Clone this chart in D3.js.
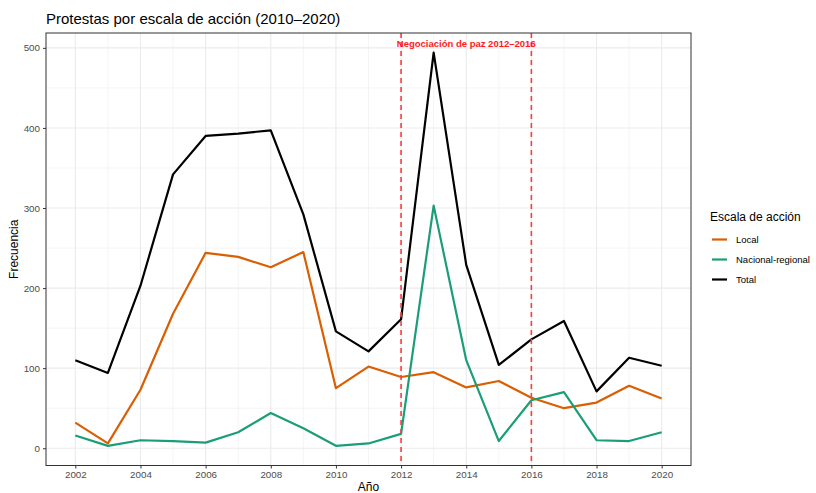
<!DOCTYPE html>
<html>
<head>
<meta charset="utf-8">
<script src="https://cdn.jsdelivr.net/npm/d3@7"></script>
<style>
  body { margin: 0; background: #fff; }
  text { font-family: "Liberation Sans", Arial, sans-serif; }
</style>
</head>
<body>
<svg id="chart" width="816" height="493"></svg>
<script>
const years = [2002, 2003, 2004, 2005, 2006, 2007, 2008, 2009, 2010, 2011,
  2012, 2013, 2014, 2015, 2016, 2017, 2018, 2019, 2020];
const local = [32, 6, 73, 168, 244, 239, 226, 245, 75, 102, 89, 95, 76, 84, 63, 50, 57, 78, 62];
const nacional = [16, 3, 10, 9, 7, 20, 44, 25, 3, 6, 18, 303, 110, 9, 60, 70, 10, 9, 20];
const total = [110, 94, 203, 342, 390, 393, 397, 292, 146, 121, 161, 494, 229, 104, 136, 159, 71, 113, 103];
const seriesNames = ['Local', 'Nacional-regional', 'Total'];
const seriesColors = ['#D95F02', '#1B9E77', '#000000'];
const xTicks = [2002, 2004, 2006, 2008, 2010, 2012, 2014, 2016, 2018, 2020];
const yTicks = [0, 100, 200, 300, 400, 500];
const peaceYears = [2012, 2016];

const series = [local, nacional, total].map((vals, i) => ({
  name: seriesNames[i],
  color: seriesColors[i],
  values: vals.map((v, j) => ({ year: years[j], value: v })),
}));

const svg = d3.select('#chart');
const panel = { left: 46, right: 691, top: 33, bottom: 465.5 };

// ggplot-like 5% expansion of the data range
const xPad = (d3.max(years) - d3.min(years)) * 0.05;
const allValues = local.concat(nacional, total);
const yMin = d3.min(allValues);
const yMax = d3.max(allValues);
const yPad = (yMax - yMin) * 0.05;

const x = d3.scaleLinear()
  .domain([d3.min(years) - xPad, d3.max(years) + xPad])
  .range([panel.left, panel.right]);
const y = d3.scaleLinear()
  .domain([yMin - yPad, yMax + yPad])
  .range([panel.bottom, panel.top]);

// minor grid
const g = svg.append('g');
g.selectAll('.minor-x')
  .data(d3.range(2003, 2021, 2))
  .enter().append('line')
  .attr('x1', d => x(d)).attr('x2', d => x(d))
  .attr('y1', panel.top).attr('y2', panel.bottom)
  .attr('stroke', '#EBEBEB').attr('stroke-width', 0.55);
g.selectAll('.minor-y')
  .data([50, 150, 250, 350, 450])
  .enter().append('line')
  .attr('y1', d => y(d)).attr('y2', d => y(d))
  .attr('x1', panel.left).attr('x2', panel.right)
  .attr('stroke', '#EBEBEB').attr('stroke-width', 0.55);

// major grid
g.selectAll('.major-x')
  .data(xTicks)
  .enter().append('line')
  .attr('x1', d => x(d)).attr('x2', d => x(d))
  .attr('y1', panel.top).attr('y2', panel.bottom)
  .attr('stroke', '#EBEBEB').attr('stroke-width', 1.1);
g.selectAll('.major-y')
  .data(yTicks)
  .enter().append('line')
  .attr('y1', d => y(d)).attr('y2', d => y(d))
  .attr('x1', panel.left).attr('x2', panel.right)
  .attr('stroke', '#EBEBEB').attr('stroke-width', 1.1);

// lines
const line = d3.line()
  .x(d => x(d.year))
  .y(d => y(d.value));

svg.selectAll('.series')
  .data(series)
  .enter().append('path')
  .attr('d', d => line(d.values))
  .attr('fill', 'none')
  .attr('stroke', d => d.color)
  .attr('stroke-width', 2.2)
  .attr('stroke-linejoin', 'round');

// peace negotiation markers
svg.selectAll('.vline')
  .data(peaceYears)
  .enter().append('line')
  .attr('x1', d => x(d)).attr('x2', d => x(d))
  .attr('y1', panel.top).attr('y2', panel.bottom)
  .attr('stroke', '#FF3B3B')
  .attr('stroke-width', 1.6)
  .attr('stroke-dasharray', '5,4');

svg.append('text')
  .attr('x', x(d3.mean(peaceYears)))
  .attr('y', y(500) - 1)
  .attr('text-anchor', 'middle')
  .style('font-size', '9.5px')
  .style('font-weight', 'bold')
  .style('fill', '#FF1A1A')
  .text('Negociación de paz 2012–2016');

// panel border
svg.append('rect')
  .attr('x', panel.left).attr('y', panel.top)
  .attr('width', panel.right - panel.left)
  .attr('height', panel.bottom - panel.top)
  .attr('fill', 'none')
  .attr('stroke', '#333333')
  .attr('stroke-width', 1);

// axes
const xAxis = svg.append('g')
  .attr('transform', `translate(0,${panel.bottom})`)
  .call(d3.axisBottom(x).tickValues(xTicks).tickFormat(d3.format('d')).tickSize(3).tickPadding(3));
const yAxis = svg.append('g')
  .attr('transform', `translate(${panel.left},0)`)
  .call(d3.axisLeft(y).tickValues(yTicks).tickSize(3).tickPadding(3));

[xAxis, yAxis].forEach(ax => {
  ax.select('.domain').remove();
  ax.selectAll('line').attr('stroke', '#333333');
  ax.selectAll('text')
    .style('font-size', '9.8px')
    .style('fill', '#4D4D4D')
    .style('font-family', '"Liberation Sans", Arial, sans-serif');
});

// titles
svg.append('text')
  .attr('x', panel.left).attr('y', 24)
  .style('font-size', '15px')
  .style('fill', '#000')
  .text('Protestas por escala de acción (2010–2020)');

svg.append('text')
  .attr('x', (panel.left + panel.right) / 2)
  .attr('y', 491)
  .attr('text-anchor', 'middle')
  .style('font-size', '12px')
  .text('Año');

svg.append('text')
  .attr('transform', `translate(18,${(panel.top + panel.bottom) / 2}) rotate(-90)`)
  .attr('text-anchor', 'middle')
  .style('font-size', '12px')
  .text('Frecuencia');

// legend
const legend = svg.append('g').attr('transform', 'translate(710,0)');
legend.append('text')
  .attr('x', 0).attr('y', 220.5)
  .style('font-size', '12px')
  .text('Escala de acción');

const keys = legend.selectAll('.key')
  .data(series)
  .enter().append('g')
  .attr('transform', (d, i) => `translate(0,${239.5 + i * 20})`);
keys.append('line')
  .attr('x1', 2).attr('x2', 17)
  .attr('y1', 0).attr('y2', 0)
  .attr('stroke', d => d.color)
  .attr('stroke-width', 2.2);
keys.append('text')
  .attr('x', 26).attr('y', 3.5)
  .style('font-size', '9.5px')
  .text(d => d.name);
</script>
</body>
</html>
